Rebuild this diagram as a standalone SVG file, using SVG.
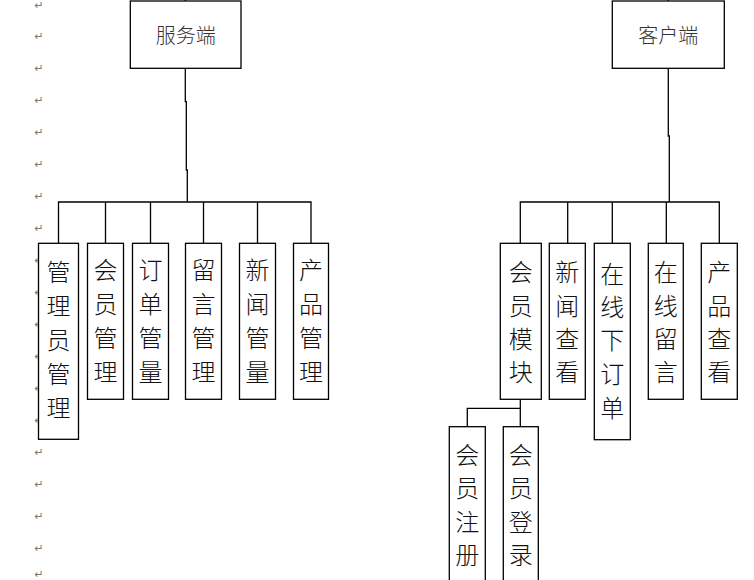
<svg xmlns="http://www.w3.org/2000/svg" width="754" height="580" viewBox="0 0 754 580">
<style>
.bg{fill:#fff}
.box{fill:#fff;stroke:#000;stroke-width:1.3}
.ln{fill:none;stroke:#000;stroke-width:1.3}
.t{font-family:"Noto Sans CJK SC","Noto Sans CJK JP",sans-serif;font-weight:300;font-size:24px;fill:#111;text-anchor:middle;dominant-baseline:central}
.h{font-family:"Noto Sans CJK SC",sans-serif;font-weight:300;font-size:20px;fill:#333;text-anchor:middle;dominant-baseline:central}
.pm{font-family:"DejaVu Sans",sans-serif;font-size:11px;fill:#777;text-anchor:middle;dominant-baseline:central}
</style>
<rect class="bg" x="0" y="0" width="754" height="580"/>
<g id="marks">
<text class="pm" x="39" y="5">↵</text>
<text class="pm" x="39" y="36">↵</text>
<text class="pm" x="39" y="68">↵</text>
<text class="pm" x="39" y="100">↵</text>
<text class="pm" x="39" y="132">↵</text>
<text class="pm" x="39" y="164">↵</text>
<text class="pm" x="39" y="196">↵</text>
<text class="pm" x="39" y="228">↵</text>
<text class="pm" x="39" y="260">↵</text>
<text class="pm" x="39" y="292">↵</text>
<text class="pm" x="39" y="324">↵</text>
<text class="pm" x="39" y="356">↵</text>
<text class="pm" x="39" y="388">↵</text>
<text class="pm" x="39" y="420">↵</text>
<text class="pm" x="39" y="452">↵</text>
<text class="pm" x="39" y="484">↵</text>
<text class="pm" x="39" y="516">↵</text>
<text class="pm" x="39" y="548">↵</text>
<text class="pm" x="39" y="574">↵</text>
</g>
<g id="connectors">
<path class="ln" d="M185.3 0V1.5"/>
<path class="ln" d="M185.3 68V101.7H186.3V170H187.3V202"/>
<path class="ln" d="M58.5 243V202H311V243"/>
<path class="ln" d="M105.5 202V243M150.5 202V243M203.5 202V243M257.5 202V243"/>
<path class="ln" d="M668.3 0V1.5"/>
<path class="ln" d="M668.3 68V136H669.3V202"/>
<path class="ln" d="M520.3 243V202H719.3V243"/>
<path class="ln" d="M567.7 202V243M612.3 202V243M666.3 202V243"/>
<path class="ln" d="M520.3 399V426.7M520.3 408.3H467.3V426.7"/>
</g>
<g id="server">
<rect class="box" x="130.3" y="1" width="110.7" height="67.3"/>
<text class="h" x="185.7" y="34">服务端</text>
</g>
<g id="client">
<rect class="box" x="612.3" y="1" width="112" height="67.3"/>
<text class="h" x="668.3" y="34">客户端</text>
</g>
<g id="n-admin">
<rect class="box" x="38.5" y="243.3" width="40" height="196"/>
<text class="t" x="58.5" y="270">管</text><text class="t" x="58.5" y="304">理</text><text class="t" x="58.5" y="338">员</text><text class="t" x="58.5" y="372">管</text><text class="t" x="58.5" y="406">理</text>
</g>
<g id="n-member">
<rect class="box" x="87.5" y="243.3" width="36" height="156"/>
<text class="t" x="105.5" y="268">会</text><text class="t" x="105.5" y="302">员</text><text class="t" x="105.5" y="336">管</text><text class="t" x="105.5" y="370">理</text>
</g>
<g id="n-order">
<rect class="box" x="132.5" y="243.3" width="36" height="156"/>
<text class="t" x="150.5" y="268">订</text><text class="t" x="150.5" y="302">单</text><text class="t" x="150.5" y="336">管</text><text class="t" x="150.5" y="370">量</text>
</g>
<g id="n-msg">
<rect class="box" x="185.5" y="243.3" width="36" height="156"/>
<text class="t" x="203.5" y="268">留</text><text class="t" x="203.5" y="302">言</text><text class="t" x="203.5" y="336">管</text><text class="t" x="203.5" y="370">理</text>
</g>
<g id="n-news">
<rect class="box" x="239.5" y="243.3" width="36" height="156"/>
<text class="t" x="257.5" y="268">新</text><text class="t" x="257.5" y="302">闻</text><text class="t" x="257.5" y="336">管</text><text class="t" x="257.5" y="370">量</text>
</g>
<g id="n-product">
<rect class="box" x="293.5" y="243.3" width="35" height="156"/>
<text class="t" x="311" y="268">产</text><text class="t" x="311" y="302">品</text><text class="t" x="311" y="336">管</text><text class="t" x="311" y="370">理</text>
</g>
<g id="c-member">
<rect class="box" x="500.3" y="243.3" width="41" height="156"/>
<text class="t" x="520.8" y="270">会</text><text class="t" x="520.8" y="304">员</text><text class="t" x="520.8" y="337">模</text><text class="t" x="520.8" y="370">块</text>
</g>
<g id="c-news">
<rect class="box" x="549.3" y="243.3" width="36" height="156"/>
<text class="t" x="567.3" y="270">新</text><text class="t" x="567.3" y="304">闻</text><text class="t" x="567.3" y="337">查</text><text class="t" x="567.3" y="370">看</text>
</g>
<g id="c-order">
<rect class="box" x="594.3" y="243.3" width="36" height="196.4"/>
<text class="t" x="612.3" y="272">在</text><text class="t" x="612.3" y="305">线</text><text class="t" x="612.3" y="338">下</text><text class="t" x="612.3" y="372">订</text><text class="t" x="612.3" y="406">单</text>
</g>
<g id="c-msg">
<rect class="box" x="648.3" y="243.3" width="35" height="156"/>
<text class="t" x="665.8" y="270">在</text><text class="t" x="665.8" y="304">线</text><text class="t" x="665.8" y="337">留</text><text class="t" x="665.8" y="370">言</text>
</g>
<g id="c-product">
<rect class="box" x="701.3" y="243.3" width="36" height="156"/>
<text class="t" x="719.3" y="270">产</text><text class="t" x="719.3" y="304">品</text><text class="t" x="719.3" y="337">查</text><text class="t" x="719.3" y="370">看</text>
</g>
<g id="c-register">
<rect class="box" x="449.3" y="426.7" width="36" height="160"/>
<text class="t" x="467.3" y="453">会</text><text class="t" x="467.3" y="486">员</text><text class="t" x="467.3" y="520">注</text><text class="t" x="467.3" y="553">册</text>
</g>
<g id="c-login">
<rect class="box" x="503.3" y="426.7" width="35" height="160"/>
<text class="t" x="520.8" y="453">会</text><text class="t" x="520.8" y="486">员</text><text class="t" x="520.8" y="520">登</text><text class="t" x="520.8" y="553">录</text>
</g>
</svg>
